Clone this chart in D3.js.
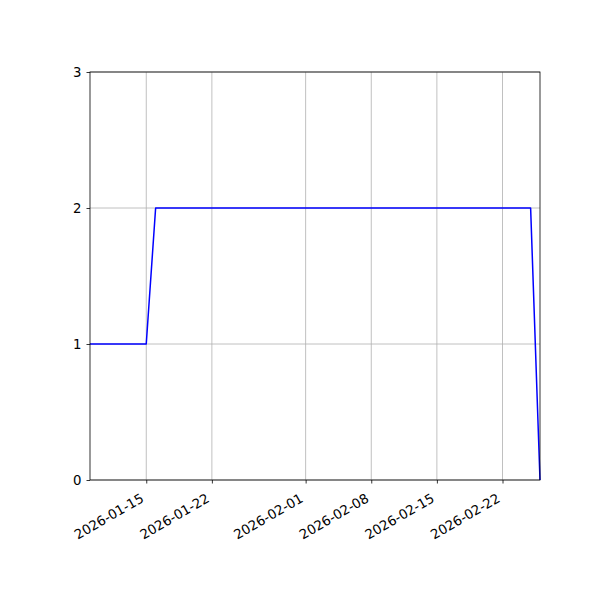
<!DOCTYPE html>
<html>
<head>
<meta charset="utf-8">
<script src="https://cdn.jsdelivr.net/npm/d3@7"></script>
<style>
  html, body { margin: 0; padding: 0; background: #fff; }
  svg text { font-family: "DejaVu Sans", sans-serif; font-size: 13.3px; fill: #000; }
</style>
</head>
<body>
<script>
// series
const dates = ["2026-01-09", "2026-01-15", "2026-01-16", "2026-02-25", "2026-02-26"];
const counts = [1, 1, 2, 2, 0];
const xTickLabels = ["2026-01-15", "2026-01-22", "2026-02-01", "2026-02-08", "2026-02-15", "2026-02-22"];
const yTicks = [0, 1, 2, 3];

const parse = d3.utcParse("%Y-%m-%d");
const data = dates.map((d, i) => ({ date: parse(d), value: counts[i] }));

render(data);

function render(data) {
    const width = 600, height = 600;
    const margin = { top: 72, right: 60, bottom: 120, left: 90 };
    const innerWidth = width - margin.left - margin.right;
    const innerHeight = height - margin.top - margin.bottom;

    const svg = d3.select('body').append('svg')
        .attr('width', width)
        .attr('height', height);
    const g = svg.append('g')
        .attr('transform', `translate(${margin.left},${margin.top})`);

    const xScale = d3.scaleUtc()
        .domain(d3.extent(data, d => d.date))
        .range([0, innerWidth]);

    const yScale = d3.scaleLinear()
        .domain([0, 3])
        .range([innerHeight, 0]);

    const xTicks = xTickLabels.map(parse);

    // grid
    g.append('g').selectAll('line.vgrid')
        .data(xTicks)
        .join('line')
        .attr('x1', d => xScale(d)).attr('x2', d => xScale(d))
        .attr('y1', 0).attr('y2', innerHeight)
        .attr('stroke', '#b0b0b0').attr('stroke-width', 0.8);
    g.append('g').selectAll('line.hgrid')
        .data(yTicks)
        .join('line')
        .attr('x1', 0).attr('x2', innerWidth)
        .attr('y1', d => yScale(d)).attr('y2', d => yScale(d))
        .attr('stroke', '#b0b0b0').attr('stroke-width', 0.8);

    // line
    const line = d3.line()
        .x(d => xScale(d.date))
        .y(d => yScale(d.value));
    g.append('path')
        .datum(data)
        .attr('d', line)
        .attr('fill', 'none')
        .attr('stroke', '#0000ff')
        .attr('stroke-width', 1.5)
        .attr('stroke-linejoin', 'round');

    // y axis
    const yAxis = g.append('g')
        .call(d3.axisLeft(yScale).tickValues(yTicks).tickFormat(d3.format('d')).tickSize(3.5).tickPadding(5));
    yAxis.select('.domain').remove();
    yAxis.selectAll('line').attr('stroke', '#000').attr('stroke-width', 0.8);
    yAxis.selectAll('text').attr('font-size', null).attr('font-family', null);

    // x axis, labels rotated like autofmt_xdate
    const xAxis = g.append('g')
        .attr('transform', `translate(0,${innerHeight})`)
        .call(d3.axisBottom(xScale).tickValues(xTicks).tickFormat(d3.utcFormat('%Y-%m-%d')).tickSize(3.5));
    xAxis.select('.domain').remove();
    xAxis.selectAll('line').attr('stroke', '#000').attr('stroke-width', 0.8);
    xAxis.selectAll('text')
        .attr('font-size', null).attr('font-family', null)
        .attr('y', 0).attr('dy', null)
        .attr('text-anchor', 'end')
        .attr('transform', 'translate(-2,21) rotate(-30)');

    // frame
    g.append('rect')
        .attr('width', innerWidth)
        .attr('height', innerHeight)
        .attr('fill', 'none')
        .attr('stroke', '#000')
        .attr('stroke-width', 0.8);
}
</script>
</body>
</html>
